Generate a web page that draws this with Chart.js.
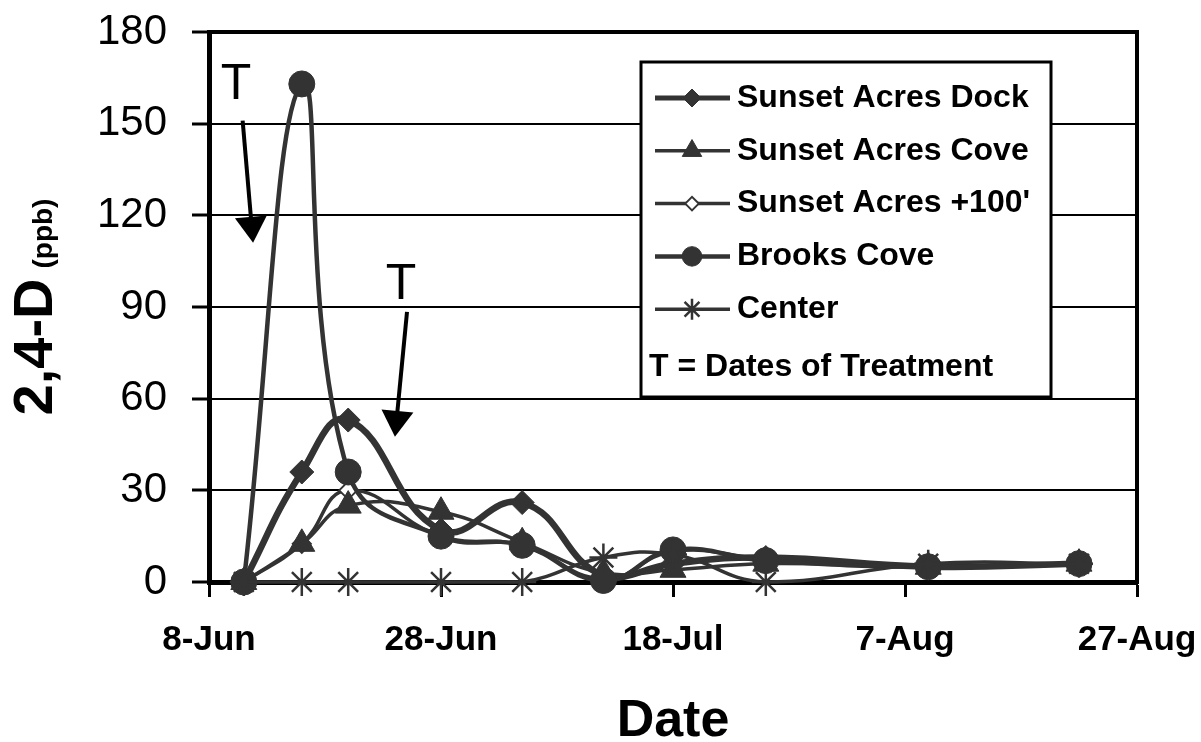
<!DOCTYPE html>
<html><head><meta charset="utf-8">
<script src="https://cdn.jsdelivr.net/npm/chart.js"></script>
<style>html,body{margin:0;padding:0;background:#fff}canvas{display:block}</style>
</head><body>
<canvas id="c" width="1201" height="742"></canvas>
<script>
// ---- data ----
const sampleDates = ['11-Jun','16-Jun','20-Jun','28-Jun','5-Jul','12-Jul','18-Jul','26-Jul','9-Aug','22-Aug'];
const axisStart = '8-Jun';
const tickLabels = ['8-Jun','28-Jun','18-Jul','7-Aug','27-Aug'];
const seriesNames = ['Sunset Acres Dock','Sunset Acres Cove',"Sunset Acres +100'",'Brooks Cove','Center'];
const sunsetDock = [0, 36, 53, 17, 26, 2, 6, 8, 5, 6];
const sunsetCove = [0, 12.5, 25, 23, 13, 3, 4, 6, 5, 6];
const sunset100  = [0, 12.5, 30, 15, 12, 1, 10, 7.5, 5, 6];
const brooksCove = [0, 163, 36, 15, 12, 0.5, 10.5, 7, 5, 6];
const centerVals = [0, 0, 0, 0, 0, 8, 9, 0, 6, 6];
const yTitleMain = '2,4-D';
const yTitleUnit = '(ppb)';
const xTitle = 'Date';
const treatmentNote = 'T = Dates of Treatment';
// treatment annotations in data units (day offset, ppb)
const treatmentText  = [[2.33, 158], [16.55, 92.6]];
const treatmentFrom  = [[2.9, 151], [17.07, 88.4]];
const treatmentTo    = [[3.8, 111], [16.03, 47.5]];

const MONTHS = {Jan:0,Feb:1,Mar:2,Apr:3,May:4,Jun:5,Jul:6,Aug:7,Sep:8,Oct:9,Nov:10,Dec:11};
function dayNum(s){ const [d,m] = s.split('-'); return Date.UTC(2000, MONTHS[m], +d)/86400000; }
const x0 = dayNum(axisStart);
const xs = sampleDates.map(s => dayNum(s) - x0);
const pts = arr => arr.map((v,i) => ({x: xs[i], y: v}));

const FONT = "'Liberation Sans', Arial, sans-serif";
const GRAY = '#333333';

const styles = [
  {data: sunsetDock, bw: 6.5, ps: 'rectRot',  r: 12, pbw: 1, fill: GRAY, order: 5},
  {data: sunsetCove, bw: 3.5, ps: 'triangle', r: 15, pbw: 1, fill: GRAY, order: 4},
  {data: sunset100,  bw: 3.5, ps: 'rectRot',  r: 9,  pbw: 2, fill: '#ffffff', order: 6},
  {data: brooksCove, bw: 4.5, ps: 'circle',   r: 13, pbw: 1, fill: GRAY, order: 2},
  {data: centerVals, bw: 3.5, ps: 'star',     r: 14, pbw: 2.5, fill: GRAY, order: 1},
];

const datasets = styles.map((s, i) => ({
  label: seriesNames[i],
  data: pts(s.data),
  borderColor: GRAY,
  borderWidth: s.bw,
  pointStyle: s.ps,
  pointRadius: s.r,
  pointBorderWidth: s.pbw,
  pointBackgroundColor: s.fill,
  pointBorderColor: GRAY,
  tension: 0.45,
  fill: false,
  clip: false,
  order: s.order
}));

function drawMarker(ctx, style, radius, x, y, bw, fill) {
  ctx.save();
  ctx.lineWidth = bw; ctx.strokeStyle = GRAY; ctx.fillStyle = fill;
  if (Chart.helpers && Chart.helpers.drawPoint) {
    Chart.helpers.drawPoint(ctx, {pointStyle: style, radius: radius, rotation: 0, borderWidth: bw}, x, y);
  }
  ctx.restore();
}

const decor = {
  id: 'decor',
  beforeDatasetsDraw(chart) {
    const {ctx, chartArea: ca} = chart;
    ctx.save();
    ctx.strokeStyle = '#000'; ctx.lineWidth = 4;
    ctx.strokeRect(ca.left, ca.top, ca.right - ca.left, ca.bottom - ca.top);
    ctx.restore();
  },
  afterDatasetsDraw(chart) {
    const {ctx, chartArea: ca, scales} = chart;
    const sx = scales.x, sy = scales.y;
    ctx.save();
    ctx.fillStyle = '#000'; ctx.strokeStyle = '#000';
    for (let i = 0; i < treatmentText.length; i++) {
      ctx.font = '50px ' + FONT;
      ctx.textAlign = 'center'; ctx.textBaseline = 'alphabetic';
      ctx.fillText('T', sx.getPixelForValue(treatmentText[i][0]), sy.getPixelForValue(treatmentText[i][1]));
      const ax = sx.getPixelForValue(treatmentFrom[i][0]), ay = sy.getPixelForValue(treatmentFrom[i][1]);
      const bx = sx.getPixelForValue(treatmentTo[i][0]),   by = sy.getPixelForValue(treatmentTo[i][1]);
      const len = Math.hypot(bx - ax, by - ay), ux = (bx - ax)/len, uy = (by - ay)/len;
      const hl = 26, hw = 16;
      const hx = bx - ux*hl, hy = by - uy*hl;
      ctx.lineWidth = 4;
      ctx.beginPath(); ctx.moveTo(ax, ay); ctx.lineTo(hx + ux*2, hy + uy*2); ctx.stroke();
      ctx.beginPath();
      ctx.moveTo(bx, by);
      ctx.lineTo(hx - uy*hw, hy + ux*hw);
      ctx.lineTo(hx + uy*hw, hy - ux*hw);
      ctx.closePath(); ctx.fill();
    }
    ctx.restore();

    // legend box
    const L = ca.left + 432, T = ca.top + 30, W = 410, H = 335;
    ctx.save();
    ctx.fillStyle = '#fff'; ctx.fillRect(L, T, W, H);
    ctx.strokeStyle = '#000'; ctx.lineWidth = 3; ctx.strokeRect(L, T, W, H);
    ctx.font = 'bold 32px ' + FONT;
    ctx.textBaseline = 'middle'; ctx.textAlign = 'left';
    chart.data.datasets.forEach((ds, i) => {
      const y = T + 36 + i * 52.8;
      ctx.strokeStyle = GRAY; ctx.lineWidth = Math.min(ds.borderWidth, 5);
      ctx.beginPath(); ctx.moveTo(L + 14, y); ctx.lineTo(L + 89, y); ctx.stroke();
      drawMarker(ctx, ds.pointStyle, ds.pointRadius * 0.75, L + 51, y, ds.pointBorderWidth, ds.pointBackgroundColor);
      ctx.fillStyle = '#000';
      ctx.fillText(ds.label, L + 96, y);
    });
    ctx.fillStyle = '#000';
    ctx.fillText(treatmentNote, L + 8, T + 305);
    ctx.restore();
  },
  afterDraw(chart) {
    const {ctx, chartArea: ca} = chart;
    ctx.save();
    ctx.fillStyle = '#000';
    const f1 = 'bold 56px ' + FONT, f2 = 'bold 28px ' + FONT;
    ctx.font = f1; const w1 = ctx.measureText(yTitleMain).width;
    ctx.font = f2; const w2 = ctx.measureText(yTitleUnit).width;
    const gap = 10, total = w1 + gap + w2;
    const cy = (ca.top + ca.bottom) / 2;
    ctx.translate(52, cy + total / 2);
    ctx.rotate(-Math.PI / 2);
    ctx.textAlign = 'left'; ctx.textBaseline = 'alphabetic';
    ctx.font = f1; ctx.fillText(yTitleMain, 0, 0);
    ctx.font = f2; ctx.fillText(yTitleUnit, w1 + gap, 0);
    ctx.restore();
  }
};

new Chart(document.getElementById('c'), {
  type: 'line',
  data: { datasets },
  plugins: [decor],
  options: {
    responsive: false,
    animation: false,
    devicePixelRatio: 1,
    layout: { padding: { top: 32, right: 64, bottom: 0, left: 0 } },
    plugins: { legend: { display: false }, tooltip: { enabled: false } },
    scales: {
      x: {
        type: 'linear', min: 0, max: 80,
        afterFit: s => { s.height = 160; s.paddingLeft = 0; s.paddingRight = 0; },
        ticks: {
          stepSize: 20, padding: 22, color: '#000', maxRotation: 0, autoSkip: false,
          font: { family: FONT, size: 35, weight: 'bold' },
          callback: v => tickLabels[Math.round(v / 20)]
        },
        grid: { drawOnChartArea: false, drawTicks: true, tickLength: 15, tickWidth: 3, tickColor: '#000' },
        border: { display: true, color: '#000', width: 5 },
        title: { display: true, text: xTitle, color: '#000', padding: 0,
                 font: { family: FONT, size: 52, weight: 'bold', lineHeight: 0.8 } }
      },
      y: {
        min: 0, max: 180,
        afterFit: s => { s.width = 209; s.paddingTop = 0; s.paddingBottom = 0; },
        ticks: { stepSize: 30, padding: 25, color: '#000', font: { family: FONT, size: 42 } },
        grid: { color: '#000', lineWidth: 2, tickLength: 17, tickWidth: 3, tickColor: '#000' },
        border: { display: true, color: '#000', width: 5 }
      }
    }
  }
});
</script>
</body></html>
